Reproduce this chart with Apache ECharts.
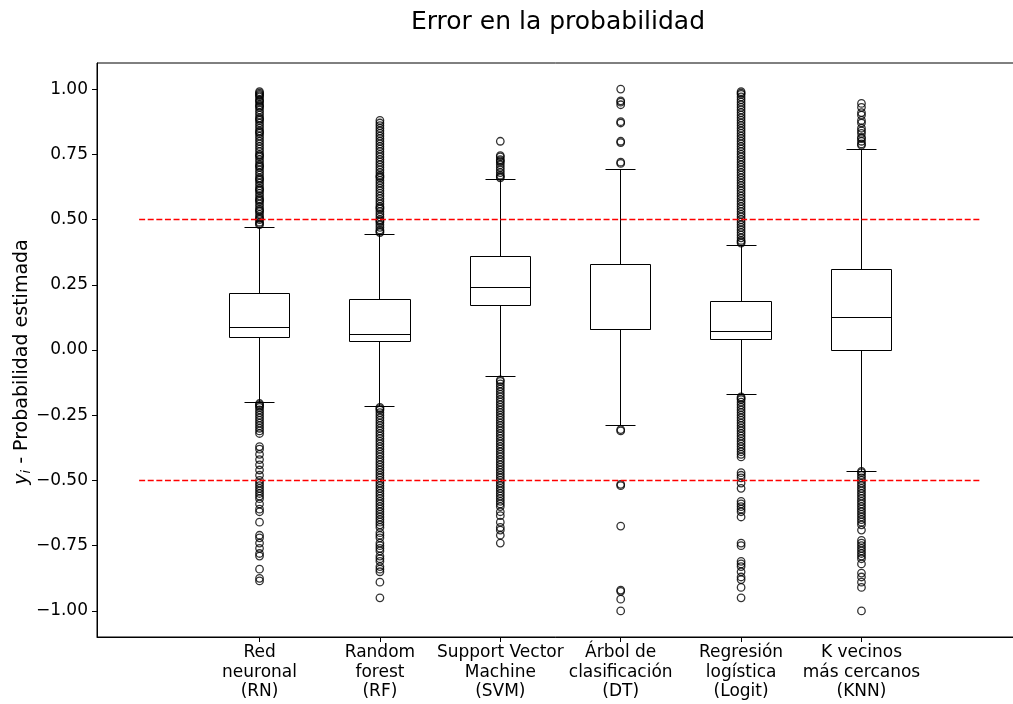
<!DOCTYPE html>
<html>
<head>
<meta charset="utf-8">
<script src="https://cdn.jsdelivr.net/npm/echarts@6/dist/echarts.min.js"></script>
<style>
  html, body { margin: 0; padding: 0; background: #fff; }
  #chart { width: 1013px; height: 704px; }
</style>
</head>
<body>
<div id="chart"></div>
<script>
// Model labels (x positions 1..6)
const categories = [
  'Red\nneuronal\n(RN)',
  'Random\nforest\n(RF)',
  'Support Vector\nMachine\n(SVM)',
  'Árbol de\nclasificación\n(DT)',
  'Regresión\nlogística\n(Logit)',
  'K vecinos\nmás cercanos\n(KNN)'
];

// Box statistics per model
const whiskerLow  = [-0.203, -0.218, -0.100, -0.290, -0.172, -0.464];
const q1          = [ 0.046,  0.031,  0.169,  0.077,  0.042,  0.000];
const median      = [ 0.088,  0.061,  0.238,  0.080,  0.069,  0.123];
const q3          = [ 0.218,  0.195,  0.360,  0.326,  0.184,  0.307];
const whiskerHigh = [ 0.471,  0.444,  0.655,  0.690,  0.402,  0.770];

// Outliers per model
const outliersRN = [
  0.48, 0.485, 0.49, 0.50, 0.505, 0.51, 0.52, 0.53, 0.535, 0.54, 0.55, 0.56, 0.57, 0.575, 0.58, 0.59,
  0.60, 0.61, 0.615, 0.62, 0.63, 0.64, 0.65, 0.655, 0.66, 0.67, 0.68, 0.69, 0.70, 0.705, 0.71, 0.72,
  0.73, 0.74, 0.745, 0.75, 0.76, 0.77, 0.78, 0.79, 0.80, 0.81, 0.82, 0.83, 0.835, 0.84, 0.85, 0.86,
  0.87, 0.88, 0.885, 0.89, 0.90, 0.91, 0.92, 0.93, 0.935, 0.94, 0.95, 0.955, 0.96, 0.97, 0.975, 0.98,
  0.985, 0.99,
  -0.205, -0.21, -0.215, -0.22, -0.23, -0.24, -0.25, -0.26, -0.27, -0.28, -0.29, -0.30, -0.31, -0.32,
  -0.37, -0.38, -0.40, -0.42, -0.44, -0.46, -0.48, -0.50, -0.51, -0.52, -0.53, -0.54, -0.55, -0.56,
  -0.57, -0.59, -0.61, -0.62, -0.66, -0.71, -0.72, -0.74, -0.76, -0.78, -0.79, -0.84, -0.875, -0.885
];
const outliersRF = [
  0.45, 0.455, 0.46, 0.47, 0.48, 0.49, 0.495, 0.50, 0.51, 0.52, 0.53, 0.54, 0.545, 0.55, 0.56, 0.57,
  0.58, 0.59, 0.60, 0.61, 0.62, 0.63, 0.64, 0.65, 0.66, 0.665, 0.67, 0.68, 0.69, 0.70, 0.71, 0.72,
  0.73, 0.74, 0.75, 0.76, 0.77, 0.78, 0.79, 0.80, 0.81, 0.82, 0.83, 0.84, 0.85, 0.86, 0.87, 0.88,
  -0.22, -0.225, -0.23, -0.24, -0.25, -0.26, -0.27, -0.28, -0.29, -0.30, -0.31, -0.32, -0.33, -0.34,
  -0.35, -0.36, -0.37, -0.38, -0.39, -0.40, -0.41, -0.42, -0.43, -0.44, -0.45, -0.46, -0.47, -0.48,
  -0.49, -0.50, -0.51, -0.52, -0.53, -0.54, -0.55, -0.56, -0.57, -0.58, -0.59, -0.60, -0.61, -0.62,
  -0.63, -0.64, -0.65, -0.66, -0.67, -0.68, -0.70, -0.71, -0.72, -0.74, -0.75, -0.76, -0.77, -0.79,
  -0.80, -0.81, -0.83, -0.84, -0.85, -0.89, -0.95
];
const outliersSVM = [
  0.66, 0.665, 0.67, 0.68, 0.69, 0.70, 0.71, 0.72, 0.725, 0.73, 0.74, 0.745, 0.80,
  -0.115, -0.12, -0.13, -0.14, -0.15, -0.16, -0.17, -0.18, -0.19, -0.20, -0.21, -0.22, -0.23, -0.24,
  -0.25, -0.26, -0.27, -0.28, -0.29, -0.30, -0.31, -0.32, -0.33, -0.34, -0.35, -0.36, -0.37, -0.38,
  -0.39, -0.40, -0.41, -0.42, -0.43, -0.44, -0.45, -0.46, -0.47, -0.48, -0.49, -0.50, -0.51, -0.52,
  -0.53, -0.54, -0.55, -0.56, -0.57, -0.58, -0.59, -0.60, -0.62, -0.635, -0.66, -0.68, -0.69, -0.71,
  -0.74
];
const outliersDT = [
  0.715, 0.72, 0.795, 0.80, 0.87, 0.875, 0.94, 0.95, 0.955, 1.00,
  -0.305, -0.31, -0.515, -0.52, -0.675, -0.92, -0.925, -0.955, -1.00
];
const outliersLogit = [
  0.41, 0.415, 0.42, 0.43, 0.44, 0.45, 0.46, 0.47, 0.48, 0.49, 0.50, 0.51, 0.52, 0.53, 0.54, 0.55,
  0.56, 0.57, 0.58, 0.59, 0.60, 0.61, 0.62, 0.63, 0.64, 0.65, 0.66, 0.67, 0.68, 0.69, 0.70, 0.71,
  0.72, 0.73, 0.74, 0.75, 0.76, 0.77, 0.78, 0.79, 0.80, 0.81, 0.82, 0.83, 0.84, 0.85, 0.86, 0.87,
  0.88, 0.89, 0.90, 0.91, 0.92, 0.93, 0.94, 0.95, 0.96, 0.97, 0.98, 0.985, 0.99,
  -0.18, -0.185, -0.19, -0.20, -0.21, -0.22, -0.23, -0.24, -0.25, -0.26, -0.27, -0.28, -0.29, -0.30,
  -0.31, -0.32, -0.33, -0.34, -0.35, -0.36, -0.37, -0.38, -0.39, -0.40, -0.41, -0.47, -0.48, -0.49,
  -0.51, -0.53, -0.58, -0.59, -0.60, -0.61, -0.62, -0.64, -0.74, -0.75, -0.81, -0.82, -0.83, -0.85,
  -0.87, -0.88, -0.91, -0.95
];
const outliersKNN = [
  0.785, 0.79, 0.80, 0.81, 0.815, 0.83, 0.84, 0.85, 0.87, 0.88, 0.90, 0.91, 0.93, 0.945,
  -0.465, -0.47, -0.48, -0.49, -0.50, -0.51, -0.52, -0.53, -0.54, -0.55, -0.56, -0.57, -0.58, -0.59,
  -0.60, -0.61, -0.62, -0.63, -0.64, -0.65, -0.66, -0.67, -0.69, -0.73, -0.74, -0.75, -0.76, -0.77,
  -0.78, -0.79, -0.80, -0.82, -0.855, -0.87, -0.89, -0.91, -1.00
];
const outlierGroups = [outliersRN, outliersRF, outliersSVM, outliersDT, outliersLogit, outliersKNN];

// Reference thresholds (dashed red lines spanning x = 0..7)
const thresholds = [0.5, -0.5];
const thresholdSpan = [0, 7];

// Y tick values
const yTicks = [-1.0, -0.75, -0.5, -0.25, 0.0, 0.25, 0.5, 0.75, 1.0];

const positions = categories.map((_, i) => i + 1);
const boxData = positions.map((p, i) => [p, whiskerLow[i], q1[i], median[i], q3[i], whiskerHigh[i]]);
const outlierData = [];
outlierGroups.forEach((arr, i) => arr.forEach(v => outlierData.push([positions[i], v])));

const FONT = 'DejaVu Sans';
const crisp = v => Math.round(v - 0.5) + 0.5;

function renderBox(params, api) {
  const x = api.value(0);
  const c = api.coord([x, 0])[0];
  const halfBox = api.size([0.5, 0])[0] / 2;
  const halfCap = api.size([0.25, 0])[0] / 2;
  const y = k => crisp(api.coord([x, api.value(k)])[1]);
  const cx = crisp(c);
  const yLo = y(1), yQ1 = y(2), yMed = y(3), yQ3 = y(4), yHi = y(5);
  const l = crisp(c - halfBox), r = crisp(c + halfBox);
  const style = { stroke: '#000', lineWidth: 1, fill: null };
  const line = (x1, y1, x2, y2) => ({ type: 'line', shape: { x1, y1, x2, y2 }, style });
  return {
    type: 'group',
    children: [
      { type: 'rect', shape: { x: l, y: yQ3, width: r - l, height: yQ1 - yQ3 }, style },
      line(l, yMed, r, yMed),
      line(cx, yQ3, cx, yHi),
      line(cx, yQ1, cx, yLo),
      line(crisp(c - halfCap), yHi, crisp(c + halfCap), yHi),
      line(crisp(c - halfCap), yLo, crisp(c + halfCap), yLo)
    ]
  };
}

const fmtY = v => {
  const s = Math.abs(v).toFixed(2);
  return v < 0 ? '\u2212' + s : s;
};

const chart = echarts.init(document.getElementById('chart'), null, { renderer: 'canvas' });
chart.setOption({
  backgroundColor: '#fff',
  animation: false,
  title: {
    text: 'Error en la probabilidad',
    left: 553,
    textAlign: 'center',
    top: 5,
    textStyle: { fontFamily: FONT, fontSize: 25, fontWeight: 'normal', color: '#000' }
  },
  grid: {
    left: 97, top: 63, width: 927, height: 574,
    outerBoundsMode: 'none',
    containLabel: false,
    show: true, borderColor: '#000', borderWidth: 1, backgroundColor: 'transparent'
  },
  xAxis: {
    type: 'value',
    min: -0.35, max: 7.35,
    axisLine: { show: true, onZero: false, lineStyle: { color: '#000', width: 1 } },
    axisTick: { show: true, customValues: positions, length: 5, lineStyle: { color: '#000' } },
    axisLabel: {
      customValues: positions,
      formatter: v => categories[Math.round(v) - 1] || '',
      fontFamily: FONT, fontSize: 17, lineHeight: 19.5, color: '#000', margin: 6
    },
    splitLine: { show: false }
  },
  yAxis: {
    type: 'value',
    min: -1.1, max: 1.1,
    name: '{it|y}{sub|i}{t| - Probabilidad estimada}',
    nameLocation: 'middle',
    nameGap: 64,
    nameMoveOverlap: false,
    nameTextStyle: {
      fontFamily: FONT, fontSize: 19, color: '#000',
      rich: {
        it: { fontFamily: FONT, fontSize: 19, fontStyle: 'italic', color: '#000' },
        sub: { fontFamily: FONT, fontSize: 13, fontStyle: 'italic', color: '#000', verticalAlign: 'bottom', padding: [9, 0, 0, 0] },
        t: { fontFamily: FONT, fontSize: 19, color: '#000', padding: [0, 24, 0, 0] }
      }
    },
    axisLine: { show: true, onZero: false, lineStyle: { color: '#000', width: 1 } },
    axisTick: { show: true, customValues: yTicks, length: 5, lineStyle: { color: '#000' } },
    axisLabel: {
      customValues: yTicks,
      formatter: fmtY,
      fontFamily: FONT, fontSize: 17, color: '#000', margin: 9
    },
    splitLine: { show: false }
  },
  series: [
    {
      type: 'custom',
      renderItem: renderBox,
      data: boxData,
      encode: { x: 0, y: [1, 2, 3, 4, 5] },
      z: 3
    },
    {
      type: 'scatter',
      data: outlierData,
      symbol: 'circle',
      symbolSize: 7.5,
      itemStyle: { color: 'rgba(0,0,0,0)', borderColor: '#000', borderWidth: 1.3 },
      z: 4
    },
    ...thresholds.map(t => ({
      type: 'line',
      data: thresholdSpan.map(x => [x, t]),
      symbol: 'none',
      lineStyle: { color: '#ff0000', width: 1.4, type: [6, 2.6] },
      z: 5
    }))
  ]
});
</script>
</body>
</html>
